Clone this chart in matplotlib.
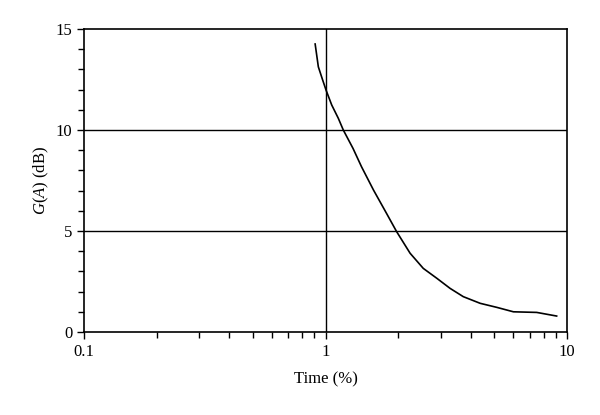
import matplotlib.pyplot as plt
import matplotlib.ticker as mticker

plt.rcParams["font.family"] = ["Liberation Serif", "DejaVu Serif"]
plt.rcParams["mathtext.fontset"] = "custom"
plt.rcParams["mathtext.it"] = "Liberation Serif:italic"
plt.rcParams["mathtext.rm"] = "Liberation Serif"

# curve
time_pct = [0.906, 0.934, 0.973, 1.005, 1.061, 1.13, 1.185, 1.30, 1.41, 1.58,
            1.79, 1.97, 2.24, 2.54, 2.89, 3.28, 3.72, 4.37, 5.12, 6.0, 7.49, 9.06]
gain_db = [14.26, 13.13, 12.48, 11.98, 11.24, 10.58, 10.0, 9.09, 8.18, 7.03,
           5.87, 4.97, 3.9, 3.15, 2.66, 2.16, 1.75, 1.42, 1.22, 1.0, 0.97, 0.79]

fig = plt.figure(figsize=(6, 4.15), dpi=100)
ax = fig.add_axes([0.14, 0.2, 0.805, 0.73])

ax.plot(time_pct, gain_db, color="black", lw=1.2)

ax.set_xscale("log")
ax.set_xlim(0.1, 10)
ax.set_ylim(0, 15)

ax.set_yticks([0, 5, 10, 15])
ax.yaxis.set_minor_locator(mticker.MultipleLocator(1))
ax.set_xticks([0.1, 1, 10])
ax.xaxis.set_major_formatter(mticker.FuncFormatter(lambda x, _: f"{x:g}"))
ax.xaxis.set_minor_locator(mticker.LogLocator(base=10, subs=range(2, 10)))
ax.xaxis.set_minor_formatter(mticker.NullFormatter())

ax.tick_params(which="major", direction="out", length=5, width=1, labelsize=12, color="black")
ax.tick_params(which="minor", direction="out", length=4, width=1, color="black")

ax.axhline(5, color="black", lw=1)
ax.axhline(10, color="black", lw=1)
ax.axvline(1, color="black", lw=1)

for s in ax.spines.values():
    s.set_linewidth(1.2)

ax.set_xlabel("Time (%)", fontsize=12, labelpad=8)
ax.set_ylabel("$G$($A$) (dB)", fontsize=12, labelpad=3)

fig.savefig("out.png", dpi=100)
